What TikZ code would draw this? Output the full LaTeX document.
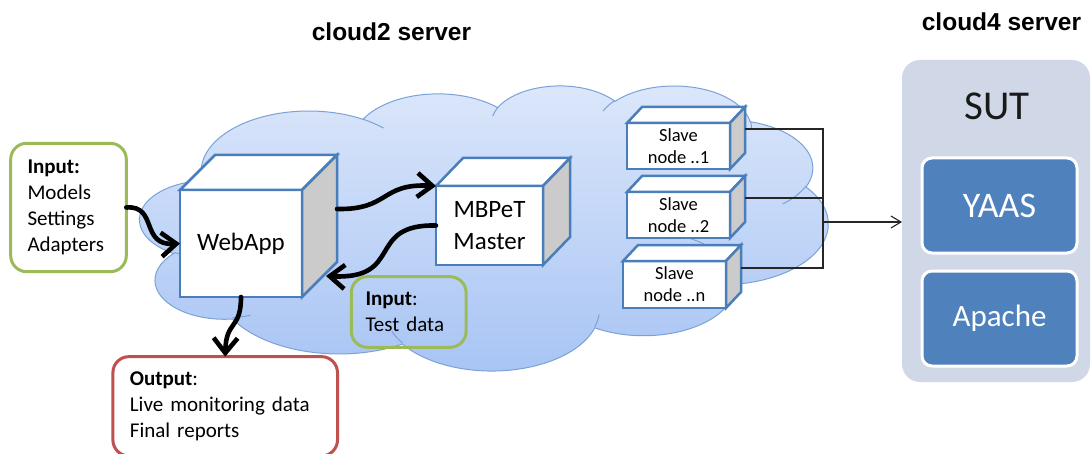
\documentclass[tikz,border=0pt]{standalone}
\usepackage{fontspec}
\setmainfont{Carlito}
\newfontfamily\titlefont{Liberation Sans}
\usetikzlibrary{arrows.meta,calc}

\definecolor{boxblue}{HTML}{4A7EBB}
\definecolor{sidegray}{HTML}{CBCBCB}
\definecolor{ingreen}{HTML}{9BBB59}
\definecolor{outred}{HTML}{C0504D}
\definecolor{sutpanel}{HTML}{D0D8E8}
\definecolor{sutblue}{HTML}{4F81BD}
\definecolor{cloudtop}{HTML}{DCE7FA}
\definecolor{cloudbot}{HTML}{A7C4F4}
\definecolor{cloudline}{HTML}{7BA2D8}

% elliptic arc given by radii, visual start angle and sweep (degrees)
\newcommand\carc[4]{arc[x radius=#1, y radius=#2, start angle={pang(#1,#2,#3)}, delta angle={pdel(#1,#2,#3,#4)}]}

% top and side faces of a box whose front face is node #1, depth (#2,#3)
\newcommand\cubefaces[3]{%
  \draw[cubeface, fill=white] (#1.north west) -- ++(#2,-#3) -- ($(#1.north east)+(#2,-#3)$) -- (#1.north east) -- cycle;
  \draw[cubeface, fill=sidegray] (#1.north east) -- ++(#2,-#3) -- ($(#1.south east)+(#2,-#3)$) -- (#1.south east) -- cycle;}

\begin{document}
\begin{tikzpicture}[x=1pt,y=-1pt,
  declare function={
    pang(\a,\b,\t)=atan2((\a)*sin(\t),(\b)*cos(\t));
    pdel(\a,\b,\s,\w)=(pang(\a,\b,\s+\w)-pang(\a,\b,\s))-360*round(((pang(\a,\b,\s+\w)-pang(\a,\b,\s))-\w)/360);
  },
  cloudshape/.style={top color=cloudtop, bottom color=cloudbot, draw=cloudline, line width=1pt},
  cloudcrease/.style={draw=cloudline, line width=1pt},
  cubefront/.style={draw=boxblue, line width=2.5pt, fill=white, outer sep=0pt, inner sep=0pt, align=center},
  cubeface/.style={draw=boxblue, line width=2.5pt, line join=miter},
  bigarrow/.style={line width=4.6pt, line cap=round, -{Straight Barb[length=15pt,width=24pt,line width=4.6pt]}},
  note/.style={rounded corners=16pt, line width=3pt, outer sep=0pt, align=left, inner ysep=0pt, font=\fontsize{21}{26}\selectfont},
  title/.style={anchor=base, font=\titlefont\bfseries\fontsize{24.5}{28}\selectfont},
  thinlink/.style={draw=black!85, line width=1.1pt},
  suttile/.style={fill=sutblue, draw=white, line width=3pt, rounded corners=10pt, minimum width=155pt, minimum height=95pt, text=white, outer sep=0pt}
]
\useasboundingbox (0,0) rectangle (1091,454);

% ---- cloud of the cloud2 server
\begin{scope}[shift={(140,85)}, xscale=688/432, yscale=285/432]
\path[cloudshape] (39.00,143.70)
  \carc{67.53}{91.90}{-190.48748}{123.78053}
  \carc{53.33}{72.67}{-144.10238}{89.94523}
  \carc{43.65}{59.45}{-145.80792}{99.72302}
  \carc{48.57}{65.95}{-130.98607}{117.24173}
  \carc{53.33}{72.73}{-78.70888}{109.02692}
  \carc{67.75}{92.20}{-46.26725}{130.269}
  \carc{57.85}{78.67}{0.62502}{114.03333}
  \carc{67.52}{92.15}{22.4516}{115.17255}
  \carc{77.20}{105.43}{66.24263}{75.71102}
  \carc{43.60}{59.18}{-274.94208}{146.73557}
  \carc{43.45}{59.45}{-246.8285}{152.51885}
  -- cycle;
\draw[cloudcrease] (46.93,261.77) \carc{43.45}{59.45}{86.742}{26.4295};
\draw[cloudcrease] (69.28,348.99) \carc{43.60}{59.18}{73.61047}{11.44747};
\draw[cloudcrease] (164.78,390.90) \carc{67.52}{92.15}{137.62415}{14.0811};
\draw[cloudcrease] (288.27,347.51) \carc{67.52}{92.15}{6.45327}{15.99835};
\draw[cloudcrease] (341.29,229.54) \carc{57.85}{78.67}{-70.29235}{70.91737};
\draw[cloudcrease] (417.98,153.54) \carc{53.33}{72.73}{30.31803}{27.7515};
\draw[cloudcrease] (383.24,54.26) \carc{48.57}{65.95}{-13.74433}{14.8589};
\draw[cloudcrease] (290.78,39.52) \carc{48.57}{65.95}{-149.18145}{18.19537};
\draw[cloudcrease] (221.41,47.20) \carc{43.65}{59.45}{-163.49427}{17.68635};
\draw[cloudcrease] (140.00,51.92) \carc{67.53}{91.90}{-66.70695}{12.31935};
\draw[cloudcrease] (41.27,157.89) \carc{67.53}{91.90}{157.65435}{11.85817};
\end{scope}

% ---- titles
\node[title] (cloudtwo) at (391.5,41) {cloud2 server};
\node[title] (cloudfour) at (1001.5,31) {cloud4 server};

% ---- input / output notes
\node[note, draw=ingreen, fill=white, minimum width=115.6pt, minimum height=128.4pt, inner xsep=16.8pt, text width=82pt] (inputs) at (68.5,207.5)
  {\textbf{Input:}\\Models\\Settings\\Adapters};
\node[note, draw=ingreen, minimum width=114.8pt, minimum height=70.6pt, inner xsep=14.2pt, text width=86.4pt] (testdata) at (408.7,312)
  {\textbf{Input}:\\Test data};
\node[note, draw=outred, fill=white, minimum width=224.6pt, minimum height=99.3pt, inner xsep=17pt, text width=190.6pt] (outputs) at (225.2,406.3)
  {\textbf{Output}:\\Live monitoring data\\Final reports};

% ---- WebApp and MBPeT master
\node[cubefront, minimum width=122pt, minimum height=107pt, font=\fontsize{25}{32}\selectfont] (webapp) at (241,243.5) {WebApp};
\cubefaces{webapp}{35}{35}
\node[cubefront, minimum width=107pt, minimum height=79pt, font=\fontsize{25}{32}\selectfont] (master) at (489.5,225.5) {MBPeT\\Master};
\cubefaces{master}{27}{28}

% ---- slave nodes
\node[cubefront, minimum width=103pt, minimum height=46pt, font=\fontsize{18.5}{22}\selectfont] (slave1) at (678.5,146) {Slave\\node ..1};
\cubefaces{slave1}{15}{16}
\node[cubefront, minimum width=103pt, minimum height=46pt, font=\fontsize{18.5}{22}\selectfont] (slave2) at (678.5,215) {Slave\\node ..2};
\cubefaces{slave2}{15}{16}
\node[cubefront, minimum width=103pt, minimum height=47pt, font=\fontsize{18.5}{22}\selectfont] (slaven) at (674.5,284.5) {Slave\\node ..n};
\cubefaces{slaven}{15}{16}

% ---- SUT on the cloud4 server
\node[fill=sutpanel, rounded corners=18pt, minimum width=188pt, minimum height=322pt, outer sep=0pt] (sut) at (996,221) {};
\node[font=\fontsize{41}{48}\selectfont, text=black!90] (sutname) at (997,106.5) {SUT};
\node[suttile, font=\fontsize{36}{42}\selectfont] (yaas) at (999.5,205.5) {YAAS};
\node[suttile, font=\fontsize{31}{36}\selectfont] (apache) at (999.5,318.5) {Apache};

% ---- data flow between WebApp, master and notes
\draw[bigarrow] (inputs.east) .. controls (158,205) and (140,246) .. (webapp.west);
\coordinate (wout) at ($(webapp.north east)+(35,19)$);
\draw[bigarrow] (wout) .. controls (390,210) and (380,183) .. (master.north west);
\coordinate (win) at ($(webapp.south east)+(24,-21)$);
\draw[bigarrow] (master.west) .. controls (365,224) and (405,280) .. (win);
\draw[bigarrow] (webapp.south) .. controls (241,330) and (226,320) .. (outputs.north);

% ---- slaves to SUT
\coordinate (s1out) at ($(slave1.north east)+(15,6)$);
\coordinate (s2out) at ($(slave2.north east)+(15,6)$);
\coordinate (snout) at ($(slaven.north east)+(15,7)$);
\coordinate (join) at (823,222);
\draw[thinlink] (s1out) -| (join);
\draw[thinlink] (s2out) -| (join);
\draw[thinlink] (snout) -| (join);
\draw[thinlink, -{Straight Barb[length=10pt,width=12pt]}] (join) -- (sut.west |- join);
\end{tikzpicture}
\end{document}
